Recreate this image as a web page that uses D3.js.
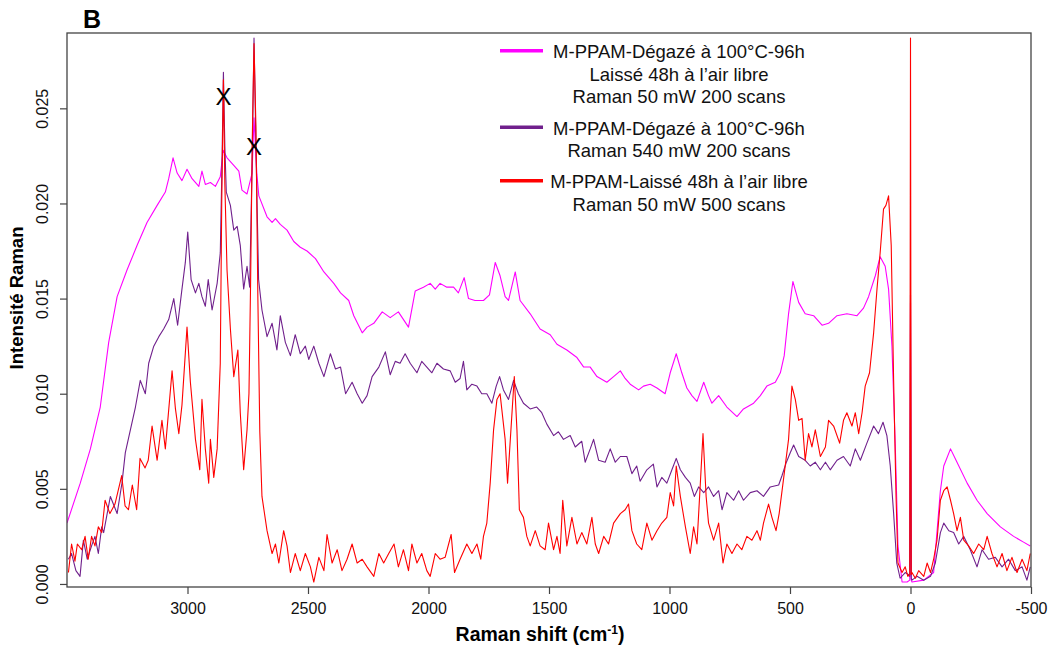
<!DOCTYPE html>
<html>
<head>
<meta charset="utf-8">
<script src="https://cdn.jsdelivr.net/npm/d3@7"></script>
<style>
	body { margin: 0; background: #fff; }
	text { font-family: "Liberation Sans", Arial, sans-serif; }
</style>
</head>
<body>
<svg id="chart" width="1048" height="648"></svg>
<script>
// [Raman shift (cm-1), intensity]
var degazeLaisse = [
	[3500,0.0032],[3445,0.0053],[3403,0.0071],[3362,0.0093],[3327,0.0127],[3292,0.0151],
	[3251,0.0165],[3209,0.0178],[3168,0.0190],[3126,0.0199],[3092,0.0206],[3078,0.0213],
	[3060,0.0224],[3043,0.0216],[3023,0.0212],[3002,0.0218],[2981,0.0213],[2953,0.0209],
	[2940,0.0217],[2926,0.0210],[2905,0.0211],[2884,0.0209],[2864,0.0214],[2852,0.0228],
	[2836,0.0224],[2808,0.0220],[2787,0.0217],[2774,0.0207],[2753,0.0205],[2732,0.0216],
	[2724,0.0245],[2712,0.0215],[2704,0.0204],[2670,0.0193],[2649,0.0190],[2635,0.0192],
	[2615,0.0189],[2587,0.0186],[2559,0.0180],[2532,0.0177],[2504,0.0175],[2469,0.0171],
	[2434,0.0164],[2393,0.0158],[2365,0.0153],[2331,0.0149],[2310,0.0141],[2275,0.0132],
	[2255,0.0135],[2227,0.0137],[2192,0.0143],[2159,0.0140],[2125,0.0143],[2083,0.0135],
	[2055,0.0154],[2021,0.0156],[1993,0.0158],[1972,0.0155],[1952,0.0158],[1924,0.0156],
	[1896,0.0156],[1876,0.0153],[1852,0.0161],[1834,0.0150],[1807,0.0149],[1772,0.0149],
	[1747,0.0152],[1723,0.0169],[1703,0.0162],[1682,0.0151],[1668,0.0149],[1640,0.0164],
	[1620,0.0149],[1578,0.0142],[1537,0.0134],[1495,0.0131],[1467,0.0126],[1426,0.0123],
	[1384,0.0119],[1356,0.0114],[1329,0.0114],[1301,0.0109],[1260,0.0106],[1232,0.0109],
	[1204,0.0112],[1184,0.0108],[1163,0.0105],[1128,0.0102],[1108,0.0104],[1080,0.0105],
	[1052,0.0103],[1018,0.0100],[997,0.0111],[972,0.0121],[949,0.0111],[928,0.0103],
	[907,0.0099],[886,0.0096],[858,0.0106],[838,0.0099],[824,0.0095],[796,0.0099],
	[762,0.0093],[720,0.0088],[693,0.0092],[651,0.0095],[623,0.0099],[596,0.0104],
	[561,0.0106],[540,0.0111],[524,0.0120],[506,0.0142],[488,0.0159],[464,0.0148],
	[437,0.0142],[402,0.0141],[367,0.0136],[340,0.0137],[305,0.0141],[264,0.0142],
	[222,0.0141],[195,0.0145],[174,0.0151],[146,0.0162],[126,0.0172],[105,0.0167],
	[91,0.0155],[77,0.0125],[63,0.0072],[52,0.0020],[35,0.0001],[14,0.0001],[3,0.0002],
	[0,0.0148],[-3,0.0002],[-6,0.0001],[-55,0.0002],[-96,0.0006],[-124,0.0049],[-138,0.0062],
	[-166,0.0071],[-193,0.0064],[-235,0.0053],[-276,0.0044],[-318,0.0037],[-373,0.0030],
	[-428,0.0025],[-469,0.0022],[-497,0.0020]
];

var degaze540 = [
	[3494,0.0013],[3481,0.0016],[3463,0.0007],[3446,0.0004],[3432,0.0023],[3416,0.0013],
	[3398,0.0020],[3384,0.0025],[3370,0.0016],[3356,0.0030],[3348,0.0027],[3320,0.0046],
	[3292,0.0037],[3272,0.0053],[3258,0.0069],[3237,0.0081],[3216,0.0093],[3196,0.0107],
	[3175,0.0100],[3161,0.0116],[3140,0.0125],[3119,0.0130],[3099,0.0134],[3078,0.0139],
	[3057,0.0150],[3041,0.0136],[3023,0.0155],[3009,0.0169],[2999,0.0185],[2985,0.0160],
	[2967,0.0153],[2953,0.0158],[2940,0.0151],[2926,0.0146],[2914,0.0160],[2898,0.0144],
	[2877,0.0158],[2864,0.0174],[2857,0.0220],[2851,0.0269],[2845,0.0230],[2839,0.0206],
	[2822,0.0199],[2808,0.0186],[2794,0.0188],[2781,0.0178],[2767,0.0155],[2753,0.0167],
	[2742,0.0156],[2732,0.0220],[2724,0.0287],[2716,0.0230],[2705,0.0160],[2691,0.0144],
	[2670,0.0130],[2649,0.0137],[2629,0.0123],[2615,0.0141],[2594,0.0127],[2573,0.0120],
	[2553,0.0131],[2532,0.0121],[2511,0.0125],[2497,0.0118],[2476,0.0125],[2455,0.0116],
	[2434,0.0109],[2407,0.0121],[2386,0.0113],[2365,0.0114],[2344,0.0100],[2317,0.0106],
	[2296,0.0100],[2275,0.0095],[2255,0.0099],[2234,0.0109],[2206,0.0114],[2179,0.0122],
	[2159,0.0110],[2138,0.0117],[2118,0.0116],[2097,0.0121],[2076,0.0116],[2048,0.0111],
	[2028,0.0117],[2007,0.0114],[1986,0.0111],[1965,0.0116],[1938,0.0113],[1910,0.0112],
	[1889,0.0106],[1869,0.0108],[1855,0.0117],[1841,0.0102],[1820,0.0105],[1799,0.0104],
	[1779,0.0100],[1758,0.0100],[1737,0.0095],[1719,0.0104],[1705,0.0109],[1689,0.0102],
	[1668,0.0097],[1647,0.0107],[1627,0.0100],[1606,0.0095],[1578,0.0092],[1551,0.0093],
	[1530,0.0090],[1509,0.0084],[1481,0.0078],[1461,0.0080],[1440,0.0076],[1412,0.0078],
	[1391,0.0072],[1364,0.0075],[1350,0.0064],[1329,0.0071],[1315,0.0076],[1294,0.0065],
	[1267,0.0064],[1246,0.0071],[1225,0.0064],[1204,0.0067],[1177,0.0067],[1156,0.0058],
	[1136,0.0062],[1122,0.0054],[1094,0.0060],[1067,0.0063],[1052,0.0051],[1032,0.0056],
	[1011,0.0053],[990,0.0060],[972,0.0066],[955,0.0060],[934,0.0056],[914,0.0053],
	[897,0.0046],[879,0.0051],[858,0.0048],[838,0.0051],[817,0.0046],[796,0.0049],
	[782,0.0039],[762,0.0048],[734,0.0044],[713,0.0049],[693,0.0044],[665,0.0048],
	[637,0.0049],[610,0.0046],[582,0.0051],[547,0.0052],[533,0.0057],[515,0.0064],
	[499,0.0069],[485,0.0073],[464,0.0067],[437,0.0065],[416,0.0062],[395,0.0064],
	[374,0.0060],[353,0.0064],[333,0.0060],[305,0.0065],[278,0.0067],[250,0.0062],
	[229,0.0071],[208,0.0065],[181,0.0074],[153,0.0083],[133,0.0079],[114,0.0085],
	[98,0.0078],[84,0.0062],[70,0.0037],[57,0.0011],[43,0.0003],[22,0.0006],[9,0.0005],
	[3,0.0004],[0,0.0152],[-3,0.0003],[-6,0.0002],[-27,0.0004],[-55,0.0002],[-83,0.0004],
	[-103,0.0011],[-124,0.0027],[-138,0.0032],[-159,0.0028],[-179,0.0027],[-200,0.0021],
	[-221,0.0025],[-248,0.0018],[-276,0.0009],[-297,0.0018],[-324,0.0013],[-352,0.0014],
	[-380,0.0009],[-407,0.0013],[-435,0.0007],[-463,0.0009],[-483,0.0002],[-497,0.0009]
];

var laisse500 = [
	[3494,0.0006],[3481,0.0021],[3467,0.0012],[3457,0.0021],[3439,0.0018],[3425,0.0025],
	[3412,0.0013],[3398,0.0025],[3384,0.0020],[3370,0.0030],[3356,0.0027],[3342,0.0044],
	[3322,0.0037],[3301,0.0042],[3273,0.0057],[3259,0.0041],[3245,0.0039],[3229,0.0052],
	[3211,0.0039],[3197,0.0066],[3176,0.0061],[3163,0.0065],[3147,0.0083],[3126,0.0065],
	[3106,0.0086],[3092,0.0071],[3064,0.0112],[3050,0.0092],[3036,0.0079],[3023,0.0094],
	[3002,0.0135],[2988,0.0106],[2967,0.0076],[2949,0.0060],[2940,0.0097],[2926,0.0071],
	[2912,0.0053],[2905,0.0076],[2891,0.0056],[2877,0.0071],[2864,0.0116],[2858,0.0200],
	[2851,0.0265],[2845,0.0210],[2836,0.0165],[2822,0.0134],[2808,0.0109],[2791,0.0123],
	[2781,0.0090],[2767,0.0060],[2753,0.0081],[2745,0.0100],[2738,0.0160],[2731,0.0235],
	[2724,0.0284],[2716,0.0240],[2708,0.0150],[2700,0.0080],[2691,0.0046],[2670,0.0028],
	[2649,0.0016],[2635,0.0021],[2621,0.0011],[2601,0.0028],[2587,0.0020],[2573,0.0006],
	[2553,0.0016],[2532,0.0007],[2511,0.0016],[2490,0.0009],[2476,0.0001],[2455,0.0014],
	[2434,0.0007],[2421,0.0026],[2400,0.0011],[2379,0.0018],[2359,0.0007],[2338,0.0013],
	[2317,0.0021],[2296,0.0011],[2275,0.0013],[2255,0.0009],[2227,0.0004],[2206,0.0016],
	[2186,0.0011],[2165,0.0016],[2143,0.0021],[2125,0.0009],[2104,0.0018],[2083,0.0007],
	[2069,0.0021],[2048,0.0011],[2028,0.0016],[2007,0.0007],[1993,0.0004],[1972,0.0016],
	[1952,0.0013],[1931,0.0014],[1906,0.0026],[1892,0.0006],[1869,0.0013],[1841,0.0021],
	[1820,0.0016],[1799,0.0021],[1783,0.0013],[1772,0.0025],[1758,0.0032],[1744,0.0053],
	[1730,0.0081],[1716,0.0097],[1703,0.0100],[1682,0.0076],[1672,0.0053],[1658,0.0081],
	[1644,0.0109],[1633,0.0081],[1623,0.0039],[1606,0.0035],[1592,0.0025],[1578,0.0020],
	[1557,0.0028],[1537,0.0020],[1516,0.0018],[1502,0.0032],[1481,0.0018],[1467,0.0025],
	[1454,0.0016],[1443,0.0044],[1426,0.0020],[1405,0.0035],[1384,0.0021],[1364,0.0027],
	[1343,0.0021],[1322,0.0035],[1308,0.0021],[1294,0.0016],[1273,0.0025],[1253,0.0021],
	[1232,0.0032],[1204,0.0037],[1184,0.0039],[1170,0.0042],[1156,0.0028],[1136,0.0021],
	[1115,0.0018],[1094,0.0032],[1073,0.0023],[1052,0.0028],[1032,0.0032],[1011,0.0035],
	[997,0.0048],[983,0.0041],[972,0.0062],[955,0.0046],[934,0.0030],[914,0.0016],
	[900,0.0030],[886,0.0021],[872,0.0053],[861,0.0079],[848,0.0046],[838,0.0032],
	[817,0.0023],[796,0.0032],[778,0.0011],[762,0.0021],[741,0.0016],[720,0.0021],
	[700,0.0018],[679,0.0025],[658,0.0023],[637,0.0028],[623,0.0023],[610,0.0032],
	[589,0.0042],[575,0.0035],[558,0.0028],[545,0.0037],[527,0.0055],[506,0.0076],
	[492,0.0104],[478,0.0097],[464,0.0086],[450,0.0087],[437,0.0065],[423,0.0079],
	[409,0.0072],[395,0.0081],[374,0.0067],[353,0.0072],[340,0.0086],[319,0.0083],
	[294,0.0074],[278,0.0086],[264,0.0090],[243,0.0083],[229,0.0090],[215,0.0079],
	[201,0.0090],[188,0.0104],[170,0.0111],[153,0.0132],[139,0.0155],[126,0.0174],
	[112,0.0197],[102,0.0199],[91,0.0204],[80,0.0178],[70,0.0107],[60,0.0046],[52,0.0011],
	[35,0.0006],[22,0.0009],[11,0.0004],[3,0.0005],[0,0.0287],[-3,0.0005],[-6,0.0006],
	[-20,0.0003],[-34,0.0007],[-55,0.0004],[-69,0.0011],[-83,0.0006],[-96,0.0013],
	[-110,0.0023],[-124,0.0044],[-138,0.0049],[-152,0.0051],[-166,0.0044],[-179,0.0037],
	[-193,0.0028],[-207,0.0035],[-221,0.0023],[-241,0.0020],[-262,0.0016],[-283,0.0021],
	[-304,0.0018],[-318,0.0025],[-338,0.0016],[-359,0.0009],[-380,0.0016],[-400,0.0007],
	[-421,0.0014],[-442,0.0006],[-463,0.0013],[-483,0.0007],[-497,0.0016]
];

var seriesColors = ['#ff00ff', '#70208c', '#ff0000'];
var legendLabels = [
	['M-PPAM-Dégazé à 100°C-96h', 'Laissé 48h à l\u2019air libre', 'Raman 50 mW 200 scans'],
	['M-PPAM-Dégazé à 100°C-96h', 'Raman 540 mW 200 scans'],
	['M-PPAM-Laissé 48h à l\u2019air libre', 'Raman 50 mW 500 scans']
];
var xTicks = [3000, 2500, 2000, 1500, 1000, 500, 0, -500];
var yTicks = [0, 0.005, 0.010, 0.015, 0.020, 0.025];
// the two marked bands
var markShift = [2851, 2724];
var markValue = [0.0256, 0.0230];

(function() {
	var svg = d3.select('#chart');
	// plot box, in pixels
	var x0 = 67, x1 = 1031, y0 = 33, y1 = 587;

	var x = d3.scaleLinear().domain([3500, -500]).range([x0, x1]);
	var y = d3.scaleLinear().domain([-0.00016, 0.02896]).range([y1, y0]);

	svg.append('defs').append('clipPath').attr('id', 'plotClip')
		.append('rect')
		.attr('x', x0).attr('y', y0)
		.attr('width', x1 - x0).attr('height', y1 - y0);

	var line = d3.line()
		.x(function(d) { return x(d[0]); })
		.y(function(d) { return y(d[1]); });

	var plot = svg.append('g').attr('clip-path', 'url(#plotClip)');
	[degazeLaisse, degaze540, laisse500].forEach(function(s, i) {
		plot.append('path')
			.datum(s)
			.attr('d', line)
			.style('fill', 'none')
			.style('stroke', seriesColors[i])
			.style('stroke-width', 1.1)
			.style('stroke-linejoin', 'round');
	});

	// X markers over the two peaks
	svg.selectAll('text.mark')
		.data(markShift)
		.enter().append('text')
		.attr('class', 'mark')
		.attr('x', function(d) { return x(d); })
		.attr('y', function(d, i) { return y(markValue[i]) + 8.5; })
		.attr('text-anchor', 'middle')
		.style('font-size', '24px')
		.style('fill', '#000')
		.text('X');

	// frame
	svg.append('rect')
		.attr('x', x0).attr('y', y0)
		.attr('width', x1 - x0).attr('height', y1 - y0)
		.style('fill', 'none')
		.style('stroke', '#444')
		.style('stroke-width', 1.3);

	var xAxis = svg.append('g')
		.attr('transform', 'translate(0,' + y1 + ')')
		.call(d3.axisBottom(x).tickValues(xTicks).tickSize(7).tickPadding(9)
			.tickFormat(function(d) { return String(d); }));
	var yAxis = svg.append('g')
		.attr('transform', 'translate(' + x0 + ',0)')
		.call(d3.axisLeft(y).tickValues(yTicks).tickSize(7)
			.tickFormat(function(d) { return d.toFixed(3); }));

	[xAxis, yAxis].forEach(function(a) {
		a.select('.domain').remove();
		a.selectAll('line').style('stroke', '#444').style('stroke-width', 1.2);
		a.selectAll('text')
			.style('font-family', '"Liberation Sans", Arial, sans-serif')
			.style('font-size', '16px')
			.style('fill', '#111');
	});
	yAxis.selectAll('text')
		.attr('transform', 'rotate(-90)')
		.attr('x', 0)
		.attr('dx', 0)
		.attr('dy', 0)
		.attr('y', -19)
		.style('text-anchor', 'middle');

	// titles
	svg.append('text')
		.attr('x', 83).attr('y', 28)
		.style('font-size', '25px').style('font-weight', 'bold')
		.text('B');

	var xt = svg.append('text')
		.attr('x', 540).attr('y', 641)
		.attr('text-anchor', 'middle')
		.style('font-size', '19.5px').style('font-weight', 'bold');
	xt.append('tspan').text('Raman shift (cm');
	xt.append('tspan').attr('dy', -7).style('font-size', '12px').text('-1');
	xt.append('tspan').attr('dy', 7).text(')');

	svg.append('text')
		.attr('transform', 'translate(23,298) rotate(-90)')
		.attr('text-anchor', 'middle')
		.style('font-size', '18.5px').style('font-weight', 'bold')
		.text('Intensité Raman');

	// legend
	var legendY = [50.7, 127.3, 180.7];
	var legend = svg.append('g');
	legendLabels.forEach(function(lines, i) {
		legend.append('line')
			.attr('x1', 500).attr('x2', 543)
			.attr('y1', legendY[i]).attr('y2', legendY[i])
			.style('stroke', seriesColors[i])
			.style('stroke-width', 3.5);
		lines.forEach(function(t, j) {
			legend.append('text')
				.attr('x', 679)
				.attr('y', legendY[i] + 7.5 + j * 22.5)
				.attr('text-anchor', 'middle')
				.style('font-size', '18.5px')
				.style('fill', '#111')
				.text(t);
		});
	});
})();
</script>
</body>
</html>
